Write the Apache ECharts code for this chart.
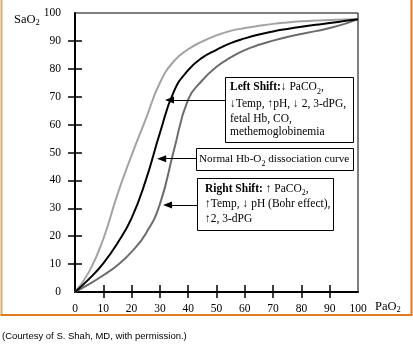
<!DOCTYPE html>
<html>
<head>
<meta charset="utf-8">
<script src="https://cdn.jsdelivr.net/npm/echarts@6/dist/echarts.min.js"></script>
<style>html,body{margin:0;padding:0;background:#fff}#c{width:413px;height:348px}</style>
</head>
<body>
<div id="c"></div>
<script>
// PaO2 sample points (mmHg)
const paO2 = [0,5,10,15,20,25,30,35,40,45,50,55,60,65,70,75,80,85,90,95,100];
// SaO2 (%)
const leftShift  = [0,7.3,19,35,49,62,75,82.8,87,89.8,92,93.6,94.6,95.4,96.1,96.6,97,97.3,97.5,97.7,97.8];
const normal     = [0,4.7,10.3,17.5,26.5,40,57,72,79.5,84,86.8,89.2,90.9,92.3,93.4,94.3,95.1,95.8,96.4,97.1,97.8];
const rightShift = [0,2.8,6,9.6,14.4,20.9,31.5,51,69,75.9,80.7,84.1,86.7,88.6,90.1,91.4,92.5,93.5,94.6,96,97.8];
// axis ticks
const tickValues = [10,20,30,40,50,60,70,80,90];
// annotation arrows: [fromPaO2, toPaO2, SaO2]
const arrowLeft   = [53, 33.4, 68.8];
const arrowNormal = [42.8, 30.6, 47.8];
const arrowRight  = [43.1, 32.7, 31.2];

const serif = 'Liberation Serif';
const pts = arr => paO2.map((x, i) => [x, arr[i]]);
const arrow = a => [{coord: [a[0], a[2]]}, {coord: [a[1], a[2]]}];

function rs(lh, fs) {
  const n = {fontFamily: serif, fontSize: fs, color: '#000'};
  return {
    b: Object.assign({}, n, {fontWeight: 'bold', lineHeight: lh, verticalAlign: 'middle'}),
    n: Object.assign({}, n, {lineHeight: lh, verticalAlign: 'middle'}),
    s: Object.assign({}, n, {fontSize: 8, lineHeight: 9, verticalAlign: 'bottom'})
  };
}
const rich17 = rs(17, 11.5);
const rich13 = rs(13, 11.5);
const rich15 = rs(15, 11.5);
const richNormal = rs(17, 11.2);
const richLeft = {
  b: rich17.b, n: rich17.n, s: rich17.s, m: rich13.n
};

const chart = echarts.init(document.getElementById('c'), null, {renderer: 'canvas'});
chart.setOption({
  animation: false,
  backgroundColor: '#fff',
  grid: {left: 75, top: 13, right: 55, bottom: 56, show: true, borderColor: '#000', borderWidth: 1, backgroundColor: 'transparent'},
  xAxis: [
    {type: 'value', min: 0, max: 100, interval: 10, position: 'bottom',
     axisLine: {show: true, lineStyle: {color: '#000', width: 2}},
     axisTick: {show: true, length: 6, lineStyle: {color: '#000', width: 1.5}, customValues: tickValues},
     axisLabel: {color: '#000', fontFamily: serif, fontSize: 11.5, margin: 11},
     splitLine: {show: false}},
    {type: 'value', min: 0, max: 100, interval: 10, position: 'bottom',
     axisLine: {show: false},
     axisTick: {show: true, inside: true, length: 7, lineStyle: {color: '#000', width: 1.5}, customValues: tickValues},
     axisLabel: {show: false}, splitLine: {show: false}}
  ],
  yAxis: [
    {type: 'value', min: 0, max: 100, interval: 10, position: 'left',
     axisLine: {show: true, lineStyle: {color: '#000', width: 2}},
     axisTick: {show: true, length: 7, lineStyle: {color: '#000', width: 1.5}, customValues: tickValues},
     axisLabel: {color: '#000', fontFamily: serif, fontSize: 11.5, margin: 14},
     splitLine: {show: false}},
    {type: 'value', min: 0, max: 100, interval: 10, position: 'left',
     axisLine: {show: false},
     axisTick: {show: true, inside: true, length: 7, lineStyle: {color: '#000', width: 1.5}, customValues: tickValues},
     axisLabel: {show: false}, splitLine: {show: false}}
  ],
  series: [
    {name: 'Left shift', type: 'line', data: pts(leftShift), smooth: 0.5, showSymbol: false,
     lineStyle: {color: '#a3a3a3', width: 2}, z: 2},
    {name: 'Right shift', type: 'line', data: pts(rightShift), smooth: 0.5, showSymbol: false,
     lineStyle: {color: '#6c6c6c', width: 2}, z: 2},
    {name: 'Normal', type: 'line', data: pts(normal), smooth: 0.5, showSymbol: false,
     lineStyle: {color: '#000', width: 2}, z: 3,
     markLine: {silent: true, symbol: ['none', 'triangle'], symbolSize: [7, 9], label: {show: false},
       lineStyle: {color: '#000', width: 1, type: 'solid'},
       emphasis: {disabled: true},
       data: [arrow(arrowLeft), arrow(arrowNormal), arrow(arrowRight)]}}
  ],
  graphic: [
    {type: 'line', shape: {x1: 1.5, y1: 0, x2: 1.5, y2: 315}, style: {stroke: '#d9ab6c', lineWidth: 2}, silent: true},
    {type: 'line', shape: {x1: 411.5, y1: 0, x2: 411.5, y2: 315}, style: {stroke: '#e07b22', lineWidth: 2}, silent: true},
    {type: 'line', shape: {x1: 0.5, y1: 315, x2: 412.5, y2: 315}, style: {stroke: '#e07b22', lineWidth: 2}, silent: true},
    {type: 'text', left: 14, top: 13, style: {text: '{n|SaO}{s|2}', rich: {
      n: {fontFamily: serif, fontSize: 12.5, color: '#000', lineHeight: 16, verticalAlign: 'middle'},
      s: {fontFamily: serif, fontSize: 8.5, color: '#000', lineHeight: 9, verticalAlign: 'bottom'}}}},
    {type: 'text', left: 375, top: 300, style: {text: '{n|PaO}{s|2}', rich: {
      n: {fontFamily: serif, fontSize: 12.5, color: '#000', lineHeight: 16, verticalAlign: 'middle'},
      s: {fontFamily: serif, fontSize: 8.5, color: '#000', lineHeight: 9, verticalAlign: 'bottom'}}}},
    {type: 'text', left: 2, top: 331, style: {text: '(Courtesy of S. Shah, MD, with permission.)',
      fontFamily: 'Liberation Sans', fontSize: 9.5, fill: '#000'}},
    // Left shift box
    {type: 'rect', shape: {x: 225.5, y: 77.5, width: 128, height: 65}, style: {fill: '#fff', stroke: '#000', lineWidth: 1}, z: 10},
    {type: 'text', x: 230, y: 78.5, z: 11, style: {text:
      '{b|Left Shift:}{n|\u2193 PaCO}{s|2}{n|,}\n{n|\u2193Temp, \u2191pH, \u2193 2, 3-dPG,}\n{m|fetal Hb, CO,}\n{m|methemoglobinemia}',
      rich: richLeft}},
    // Normal box
    {type: 'rect', shape: {x: 196.5, y: 148.5, width: 157, height: 22}, style: {fill: '#fff', stroke: '#000', lineWidth: 1}, z: 10},
    {type: 'text', x: 199, y: 151, z: 11, style: {text: '{n|Normal Hb-O}{s|2}{n| dissociation curve}', rich: richNormal}},
    // Right shift box
    {type: 'rect', shape: {x: 197.5, y: 178.5, width: 136, height: 52}, style: {fill: '#fff', stroke: '#000', lineWidth: 1}, z: 10},
    {type: 'text', x: 205, y: 181.5, z: 11, style: {text:
      '{b|Right Shift:}{n| \u2191 PaCO}{s|2}{n|,}\n{n|\u2191Temp, \u2193 pH (Bohr effect),}\n{n|\u21912, 3-dPG}',
      rich: rich15}}
  ]
});
</script>
</body>
</html>
